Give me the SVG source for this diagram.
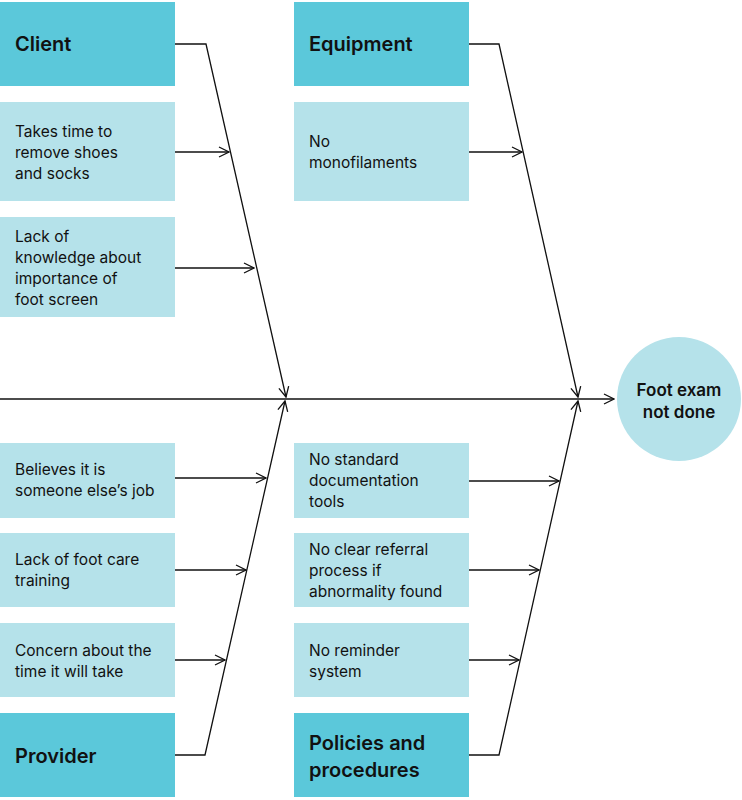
<svg xmlns="http://www.w3.org/2000/svg" width="742" height="800" viewBox="0 0 742 800">
<defs>
<style>
.h{fill:#5bc8da}.b{fill:#b5e2ea}
.ht{font-family:Inter,"Liberation Sans",sans-serif;font-size:20px;font-weight:600;fill:#111}
.ct{font-family:Inter,"Liberation Sans",sans-serif;font-size:17px;font-weight:600;fill:#111}
.bt{font-family:Inter,"Liberation Sans",sans-serif;font-size:15.5px;fill:#111}
.ln{fill:none;stroke:#111;stroke-width:1.3}
</style>
<marker id="a" viewBox="0 0 12 12" refX="11" refY="6" markerWidth="12" markerHeight="12" markerUnits="userSpaceOnUse" orient="auto"><path d="M1 1L11 6L1 11" fill="none" stroke="#111" stroke-width="1.3"/></marker>
</defs>
<rect width="742" height="800" fill="#fff"/>
<g id="client"><rect class="h" x="0" y="2" width="175" height="84"/><text class="ht" x="15" y="51">Client</text></g>
<g id="c1"><rect class="b" x="0" y="102" width="175" height="99"/><text class="bt" x="15" y="137">Takes time to</text><text class="bt" x="15" y="158">remove shoes</text><text class="bt" x="15" y="179">and socks</text></g>
<g id="c2"><rect class="b" x="0" y="217" width="175" height="100"/><text class="bt" x="15" y="242">Lack of</text><text class="bt" x="15" y="263">knowledge about</text><text class="bt" x="15" y="284">importance of</text><text class="bt" x="15" y="305">foot screen</text></g>
<g id="equipment"><rect class="h" x="294" y="2" width="175" height="84"/><text class="ht" x="309" y="51">Equipment</text></g>
<g id="e1"><rect class="b" x="294" y="102" width="175" height="99"/><text class="bt" x="309" y="147">No</text><text class="bt" x="309" y="168">monofilaments</text></g>
<g id="p1"><rect class="b" x="0" y="443" width="175" height="75"/><text class="bt" x="15" y="475">Believes it is</text><text class="bt" x="15" y="496">someone else’s job</text></g>
<g id="p2"><rect class="b" x="0" y="533" width="175" height="74"/><text class="bt" x="15" y="565">Lack of foot care</text><text class="bt" x="15" y="586">training</text></g>
<g id="p3"><rect class="b" x="0" y="623" width="175" height="74"/><text class="bt" x="15" y="656">Concern about the</text><text class="bt" x="15" y="677">time it will take</text></g>
<g id="provider"><rect class="h" x="0" y="713" width="175" height="84"/><text class="ht" x="15" y="763">Provider</text></g>
<g id="q1"><rect class="b" x="294" y="443" width="175" height="75"/><text class="bt" x="309" y="465">No standard</text><text class="bt" x="309" y="486">documentation</text><text class="bt" x="309" y="507">tools</text></g>
<g id="q2"><rect class="b" x="294" y="533" width="175" height="74"/><text class="bt" x="309" y="555">No clear referral</text><text class="bt" x="309" y="576">process if</text><text class="bt" x="309" y="597">abnormality found</text></g>
<g id="q3"><rect class="b" x="294" y="623" width="175" height="74"/><text class="bt" x="309" y="656">No reminder</text><text class="bt" x="309" y="677">system</text></g>
<g id="policies"><rect class="h" x="294" y="713" width="175" height="84"/><text class="ht" x="309" y="750">Policies and</text><text class="ht" x="309" y="777">procedures</text></g>
<g id="effect"><circle cx="679" cy="399" r="62" fill="#b5e2ea"/><text class="ct" x="679" y="396" text-anchor="middle">Foot exam</text><text class="ct" x="679" y="418" text-anchor="middle">not done</text></g>
<g id="connectors">
<path class="ln" d="M0 399H614" marker-end="url(#a)"/>
<path class="ln" d="M175 44H206L286 397" marker-end="url(#a)"/>
<path class="ln" d="M175 152H229" marker-end="url(#a)"/>
<path class="ln" d="M175 268H254" marker-end="url(#a)"/>
<path class="ln" d="M469 44H499L578 397" marker-end="url(#a)"/>
<path class="ln" d="M469 152H522" marker-end="url(#a)"/>
<path class="ln" d="M175 755H205L285 401" marker-end="url(#a)"/>
<path class="ln" d="M175 478H266" marker-end="url(#a)"/>
<path class="ln" d="M175 570H246" marker-end="url(#a)"/>
<path class="ln" d="M175 660H225" marker-end="url(#a)"/>
<path class="ln" d="M469 755H499L578 401" marker-end="url(#a)"/>
<path class="ln" d="M469 481H559" marker-end="url(#a)"/>
<path class="ln" d="M469 570H539" marker-end="url(#a)"/>
<path class="ln" d="M469 660H519" marker-end="url(#a)"/>
</g>
</svg>
